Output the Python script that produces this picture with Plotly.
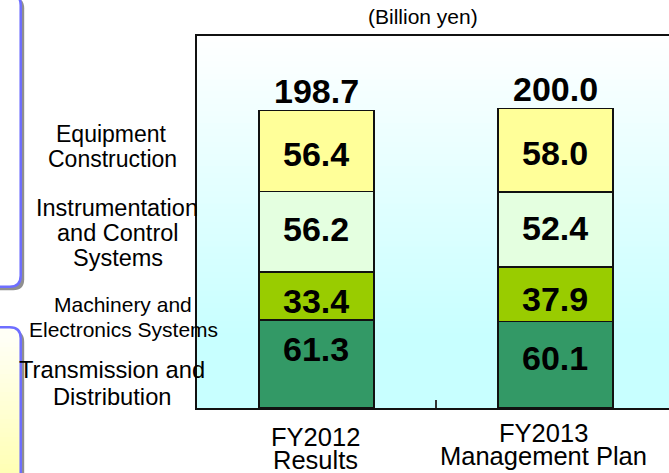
import plotly.graph_objects as go

# ---------------- data ----------------
categories = ["FY2012 Results", "FY2013 Management Plan"]
category_lines = [["FY2012", "Results"], ["FY2013", "Management Plan"]]
series_names = ["Transmission and Distribution", "Machinery and Electronics Systems",
                "Instrumentation and Control Systems", "Equipment Construction"]
transmission = [61.3, 60.1]
machinery = [33.4, 37.9]
instrumentation = [56.2, 52.4]
equipment = [56.4, 58.0]
totals = ["198.7", "200.0"]
unit_label = "(Billion yen)"
series_label_lines = [["Transmission and", "Distribution"],
                      ["Machinery and", "Electronics Systems"],
                      ["Instrumentation", "and Control", "Systems"],
                      ["Equipment", "Construction"]]

# ---------------- style ----------------
FONT = "Liberation Sans, Arial, sans-serif"
colors = ["#339966", "#99CC00", "#E4FFE0", "#FFFF99"]
W, H = 669, 473
ML, MR, MT, MB = 197, 0, 36, 65
PW, PH = W - ML - MR, H - MT - MB

def px2x(px):
    return (px - ML) / PW

def py2y(py):
    return (H - MB - py) / PH

series = [transmission, machinery, instrumentation, equipment]

fig = go.Figure()
for name, vals, col in zip(series_names, series, colors):
    fig.add_trace(go.Bar(
        x=categories, y=vals, name=name, width=0.48,
        marker=dict(color=col, line=dict(color="#111111", width=1.5)),
        showlegend=False, hoverinfo="x+y+name"))

annotations = []
# segment value labels (vertical nudges in px, per series, per category)
seg_shift = [[14.5, 6.5], [-5.3, -4.6], [2.4, 1.5], [-3.4, -2.4]]
base = [0.0, 0.0]
for si, vals in enumerate(series):
    for ci, v in enumerate(vals):
        annotations.append(dict(
            x=categories[ci], y=base[ci] + v / 2, xref="x", yref="y",
            text=f"<b>{v:.1f}</b>", showarrow=False, yshift=seg_shift[si][ci],
            font=dict(family=FONT, size=34, color="black")))
        base[ci] += v
# totals above stacks
for ci, t in enumerate(totals):
    annotations.append(dict(
        x=categories[ci], y=base[ci], xref="x", yref="y", text=f"<b>{t}</b>",
        showarrow=False, yanchor="middle", yshift=19.5,
        font=dict(family=FONT, size=34, color="black")))

def add_line(text, cx, baseline, fs):
    annotations.append(dict(
        x=px2x(cx), y=py2y(baseline - 0.35 * fs), xref="paper", yref="paper",
        text=text, showarrow=False, xanchor="center", yanchor="middle",
        font=dict(family=FONT, size=fs, color="black")))

# unit label
add_line(unit_label, 422.5, 24, 21)

# category labels under bars
cat_pos = [(315.5, [446.2, 469.0]), (543.0, [442.3, 465.3])]
for lines, (cx, bls) in zip(category_lines, cat_pos):
    for txt, bl in zip(lines, bls):
        add_line(txt, cx, bl, 25.5)

# series labels on the left
label_pos = [
    ([111.7, 112.0], [378.3, 405.7], 23.7),
    ([123.0, 123.8], [311.7, 336.7], 21.0),
    ([116.7, 118.3, 117.5], [216.0, 241.3, 266.0], 23.5),
    ([111.3, 112.5], [141.7, 166.7], 23.0),
]
for lines, (cxs, bls, fs) in zip(series_label_lines, label_pos):
    for txt, cx, bl in zip(lines, cxs, bls):
        add_line(txt, cx, bl, fs)

shapes = []
# plot background gradient (white -> light cyan)
N = 60
for i in range(N):
    t0 = i / N
    t = (i + 0.5) / N
    k = min(1.0, t / 0.8)
    r = int(round(255 - 55 * k))
    shapes.append(dict(type="rect", xref="paper", yref="paper",
                       x0=0, x1=1, y0=1 - t0 - 1 / N - 0.002, y1=1 - t0,
                       fillcolor=f"rgb({r},255,255)", line=dict(width=0), layer="below"))

def rr_path(x0, y0, x1, y1, r):
    s = f"M {px2x(x0)},{py2y(y0)} L {px2x(x1 - r)},{py2y(y0)} "
    s += f"Q {px2x(x1)},{py2y(y0)} {px2x(x1)},{py2y(y0 + r)} "
    s += f"L {px2x(x1)},{py2y(y1 - r)} "
    s += f"Q {px2x(x1)},{py2y(y1)} {px2x(x1 - r)},{py2y(y1)} "
    s += f"L {px2x(x0)},{py2y(y1)} Z"
    return s

panels = [(-6, 286.7), (327.3, 520)]
# decorative side panels (partially visible at left edge)
for (y0, y1) in panels:
    shapes.append(dict(type="path", xref="paper", yref="paper",
                       path=rr_path(-30 + 3.5, y0 + 3.5, 20.7 + 3.5, y1 + 3.5, 11),
                       fillcolor="#8F8F8F", line=dict(width=0), layer="above"))
shapes.append(dict(type="path", xref="paper", yref="paper",
                   path=rr_path(-30, panels[0][0], 20.7, panels[0][1], 11),
                   fillcolor="white", line=dict(width=0), layer="above"))
shapes.append(dict(type="path", xref="paper", yref="paper",
                   path=rr_path(-30, panels[1][0], 20.7, panels[1][1], 11),
                   fillcolor="#FFFFF6", line=dict(width=0), layer="above"))
M = 30
for i in range(M):
    ya = 338 + i * (473 - 338) / M
    yb = ya + (473 - 338) / M + 0.6
    k = (i + 0.5) / M
    b = int(round(246 - 66 * k))
    shapes.append(dict(type="rect", xref="paper", yref="paper",
                       x0=px2x(-5), x1=px2x(20), y0=py2y(yb), y1=py2y(ya),
                       fillcolor=f"rgb(255,255,{b})", line=dict(width=0), layer="above"))
for (y0, y1) in panels:
    shapes.append(dict(type="path", xref="paper", yref="paper",
                       path=rr_path(-30, y0, 20.7, y1, 11),
                       fillcolor="rgba(0,0,0,0)", line=dict(color="#6E6EFF", width=2.5),
                       layer="above"))

fig.update_layout(
    width=W, height=H, autosize=False,
    margin=dict(l=ML, r=MR, t=MT, b=MB, pad=0),
    barmode="stack",
    paper_bgcolor="white", plot_bgcolor="rgba(0,0,0,0)",
    font=dict(family=FONT, color="black"),
    annotations=annotations, shapes=shapes,
    xaxis=dict(range=[-0.5, 1.475], showline=True, mirror=True, linecolor="#111111",
               linewidth=2, ticks="inside", tickson="boundaries", ticklen=8,
               tickwidth=2, tickcolor="#333333", showticklabels=False,
               showgrid=False, zeroline=False, fixedrange=True),
    yaxis=dict(range=[0, 259], showline=True, mirror=False, linecolor="#111111",
               linewidth=2, showticklabels=False, ticks="", showgrid=False,
               zeroline=False, fixedrange=True),
)

fig.write_html("out.html", config={"displayModeBar": False},
               post_script="document.body.style.margin='0px';"
                           "document.body.style.overflow='hidden';")
